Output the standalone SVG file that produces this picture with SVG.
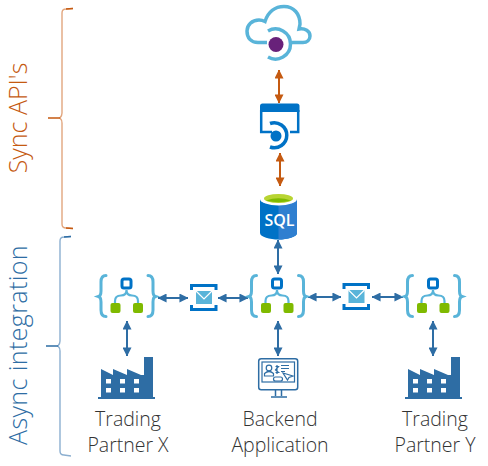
<svg xmlns="http://www.w3.org/2000/svg" width="488" height="466" viewBox="0 0 488 466">
<style>
text{font-family:"Open Sans","Liberation Sans",sans-serif;font-weight:300;fill:#333}
.lbl{font-size:19.500px;text-anchor:middle}
.brk{fill:none;stroke-width:1.4}
.cb{fill:none;stroke:#59B4D9;stroke-width:3;stroke-linecap:round}
.lk{fill:none;stroke:#59B4D9;stroke-width:2.2}
.gr{fill:#7FBA00}
.bl{stroke:#2E6DA4;stroke-width:2;fill:none;marker-start:url(#ab);marker-end:url(#ab)}
.or{stroke:#C55A11;stroke-width:2;fill:none;marker-start:url(#ao);marker-end:url(#ao)}
.fac{fill:#2E6DA4}
.win{fill:#fff}
.mon{fill:none;stroke:#2E6DA4;stroke-width:1.200}
</style>
<defs>
<marker id="ab" viewBox="0 0 10 10" refX="9.500" refY="5" markerWidth="9" markerHeight="9" markerUnits="userSpaceOnUse" orient="auto-start-reverse"><path d="M0 0L10 5L0 10Z" fill="#2E6DA4"/></marker>
<marker id="ao" viewBox="0 0 10 10" refX="9.500" refY="5" markerWidth="9" markerHeight="9" markerUnits="userSpaceOnUse" orient="auto-start-reverse"><path d="M0 0L10 5L0 10Z" fill="#C55A11"/></marker>
<g id="logic">
<path class="cb" d="M106 275.500C102 275.500 101 278 101 282L101 291C101 294 100 296 98.500 296.500C100 297 101 299 101 302L101 310C101 314 102 316.500 106 316.500"/>
<path class="cb" d="M148 275.500C152 275.500 153 278 153 282L153 291C153 294 154 296 155.500 296.500C154 297 153 299 153 302L153 310C153 314 152 316.500 148 316.500"/>
<path class="lk" d="M115 304L115 301C115 297 118 295.500 121 295.500C124 295.500 126.500 294 126.500 290M138 304L138 301C138 297 135 295.500 132 295.500C129 295.500 126.500 294 126.500 290"/>
<rect x="122" y="279" width="9" height="9" rx="2" fill="#fff" stroke="#0072C6" stroke-width="3"/>
<rect class="gr" x="110.500" y="303" width="10" height="10" rx="2"/>
<rect class="gr" x="133" y="303" width="10" height="10" rx="2"/>
</g>
<g id="mail">
<path d="M191.500 290L191.500 285.500L216 285.500L216 290M191.500 305L191.500 309.500L216 309.500L216 305" fill="none" stroke="#0072C6" stroke-width="3"/>
<rect x="196" y="291" width="16" height="13" fill="#59B4D9"/>
<path d="M196 291L204 299L212 291" fill="none" stroke="#fff" stroke-width="1.200"/>
</g>
<g id="factory">
<path class="fac" d="M101 369L113 375L113 369L127 375L127 369L141 375L144 375L144 357L153 357L153 397L155 397L155 399L98 399L98 397L101 397Z"/>
<g class="win"><rect x="106" y="379" width="5" height="4.500"/><rect x="120" y="379" width="5" height="4.500"/><rect x="134" y="379" width="5" height="4.500"/><rect x="106" y="388" width="5" height="4.500"/><rect x="120" y="388" width="5" height="4.500"/><rect x="134" y="388" width="5" height="4.500"/></g>
</g>
</defs>
<text x="27" y="118" font-size="25" text-anchor="middle" transform="rotate(-90 27 118)" style="fill:#C55A11">Sync API's</text>
<text x="27" y="345" font-size="25" letter-spacing="0.400" text-anchor="middle" transform="rotate(-90 27 345)" style="fill:#2E6DA4">Async integration</text>
<path class="brk" stroke="#E2A67E" d="M73 8.500L66 9C63 9 62 10 62 13L62 113C62 116 61 117 60 118C61 119 62 120 62 123L62 224C62 227 63 228 66 228L73 228.500"/>
<path class="brk" stroke="#C55A11" d="M48 118L60 118M66 9L73 8.500M66 228L73 228.500"/>
<path class="brk" stroke="#8CAFD0" d="M71 236.500L64 237C61 237 60 238 60 241L60 341C60 344 59 345 58 346C59 347 60 348 60 351L60 451C60 454 61 455 64 455L71 456"/>
<path class="brk" stroke="#2E6DA4" d="M46 346L58 346M64 237L71 236.500"/>
<g id="connectors">
<path class="or" d="M279 70L279 103"/>
<path class="or" d="M280 153L280 186"/>
<path class="bl" d="M278 240L278 274"/>
<path class="bl" d="M158 298L188 298"/>
<path class="bl" d="M218 298L248 298"/>
<path class="bl" d="M308 297L341 297"/>
<path class="bl" d="M372 297L403 297"/>
<path class="bl" d="M127 321L127 356"/>
<path class="bl" d="M278 321L278 356"/>
<path class="bl" d="M433 321L433 356"/>
</g>
<g id="cloud">
<path d="M267 42.500L258 42.500C251 42.500 247 38 247 31C247 25 252 20 259 20C261 20 263 20.500 265 21.500C268 12 275 6.500 284 6.500C294 6.500 300 14 300 24L299 29C305 28 310 31 310 36C310 40 307 42.500 303 42.500L290 42.500" fill="none" stroke="#59B4D9" stroke-width="3.500"/>
<path d="M268 31A15 15 0 1 1 268 57" fill="none" stroke="#59B4D9" stroke-width="3.500"/>
<circle cx="276" cy="44.500" r="7.500" fill="#68217A"/>
</g>
<g id="gateway">
<path d="M260 106Q260 103.500 262.500 103.500L297 103.500Q299.500 103.500 299.500 106L299.500 112L260 112Z" fill="#0072C6"/>
<path d="M261.200 110L261.200 132L272 132M298.200 110L298.200 132L290 132" fill="none" stroke="#0072C6" stroke-width="2.500"/>
<path d="M270 123.500A12.500 12.500 0 1 1 270 147" fill="none" stroke="#0072C6" stroke-width="3.500"/>
<circle cx="276" cy="136" r="5.500" fill="#0072C6"/>
</g>
<g id="sql">
<path d="M260 199L260 233C260 237 270 239.500 278.500 239.500C287 239.500 297 237 297 233L297 199Z" fill="#0072C6"/>
<path d="M278.500 203L278.500 239.500C287 239.500 297 237 297 233L297 199Z" fill="#2F7FD0"/>
<ellipse cx="278.500" cy="199" rx="18.500" ry="6.500" fill="#fff"/>
<ellipse cx="278.500" cy="198.500" rx="14.500" ry="4.500" fill="#B8D432"/>
<path d="M266 200.500Q278.500 196 291 200.500Q278.500 204 266 200.500Z" fill="#7FBA00"/>
<text x="279.500" y="225.500" font-size="16" text-anchor="middle" style="font-weight:600;fill:#fff">SQL</text>
</g>
<g id="logic-x"><use href="#logic"/></g>
<g id="mail-1"><use href="#mail"/></g>
<g id="logic-backend"><use href="#logic" transform="translate(150.500 0)"/></g>
<g id="mail-2"><use href="#mail" transform="translate(152.500 -1)"/></g>
<g id="logic-y"><use href="#logic" transform="translate(306.500 0)"/></g>
<g id="partner-x"><use href="#factory"/>
<text class="lbl" x="128" y="426">Trading</text><text class="lbl" x="128" y="452">Partner X</text></g>
<g id="backend">
<rect x="258.700" y="358.700" width="39" height="31" rx="2.500" fill="#fff" stroke="#2E6DA4" stroke-width="1.500"/>
<rect x="262" y="362" width="32.500" height="20" class="mon"/>
<circle cx="269" cy="368" r="2.800" class="mon"/>
<path d="M264.500 376L264.500 373.500Q269 369.500 273.500 373.500L273.500 376Z" class="mon"/>
<path d="M277 365L277 374M275.500 366.500L278.500 366.500L275.500 370L278.500 372.500L275.500 372.500M281 365.500L289 365.500M281 368.500L289 368.500M281 371.500L285 371.500" class="mon" stroke-width="1"/>
<path d="M283 373L293 376L289 377.500L287.500 380Z" class="mon"/>
<rect x="273.500" y="377" width="9" height="4" rx="2" fill="#fff" stroke="#2E6DA4" stroke-width="1.200"/>
<path d="M275.500 390L275.500 396M281.500 390L281.500 396M271 397L287 397" stroke="#2E6DA4" stroke-width="1.500" fill="none"/>
<text class="lbl" x="280" y="426">Backend</text><text class="lbl" x="280" y="452">Application</text></g>
<g id="partner-y"><use href="#factory" transform="translate(307 0)"/>
<text class="lbl" x="435" y="426">Trading</text><text class="lbl" x="435" y="452">Partner Y</text></g>
</svg>
